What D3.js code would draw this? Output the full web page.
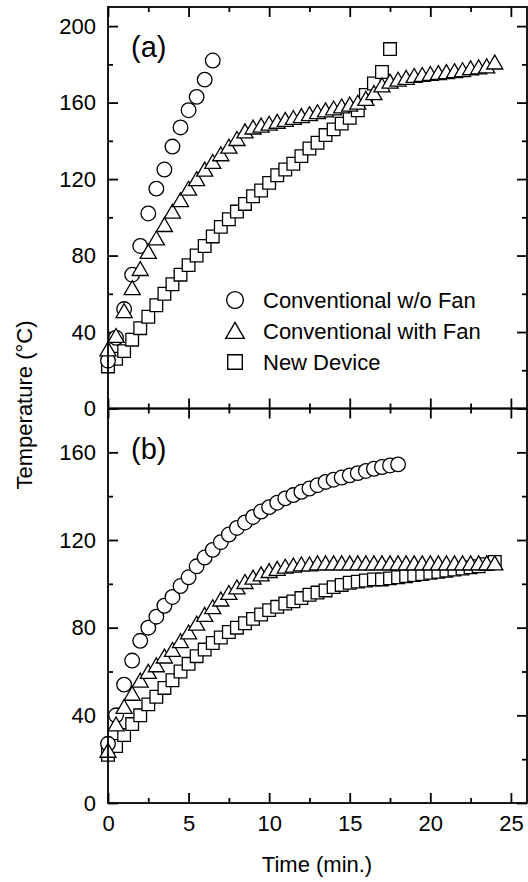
<!DOCTYPE html>
<html>
<head>
<meta charset="utf-8">
<script src="https://cdn.jsdelivr.net/npm/d3@7/dist/d3.min.js"></script>
<style>
  body { margin: 0; background: #fff; }
  svg { display: block; font-family: "Liberation Sans", Arial, sans-serif; }
</style>
</head>
<body>
<svg id="chart" width="528" height="882"></svg>
<script>
// sampling times (min.), every half minute
const timeMin = [0, 0.5, 1, 1.5, 2, 2.5, 3, 3.5, 4, 4.5, 5, 5.5, 6, 6.5, 7, 7.5, 8, 8.5, 9, 9.5,
  10, 10.5, 11, 11.5, 12, 12.5, 13, 13.5, 14, 14.5, 15, 15.5, 16, 16.5, 17, 17.5, 18, 18.5, 19, 19.5,
  20, 20.5, 21, 21.5, 22, 22.5, 23, 23.5, 24];

// (a)
const woFanA = [25, 37, 52, 70, 85, 102, 115, 125, 137, 147, 156, 163, 172, 182];
const withFanA = [30, 37, 50, 62, 72, 81, 88, 95, 102, 108, 114, 119, 124, 128, 132, 136, 140, 144,
  146, 147, 148, 149, 150, 151, 152, 153, 154, 155, 156, 157, 158, 159, 161, 164, 168, 170, 171, 172,
  173, 173.5, 174, 174.5, 175, 175.5, 176, 177, 177.5, 178, 180];
const newDevA = [22, 26, 30, 36, 42, 48, 54, 60, 65, 70, 75, 80, 85, 90, 95, 99, 103, 107, 111, 114,
  118, 122, 125, 128, 132, 136, 139, 143, 146, 149, 152, 156, 164, 170, 176, 188];

// (b)
const woFanB = [27, 40, 54, 65, 74, 80, 85, 90, 94, 99, 103, 108, 112, 115.5, 119, 122.5, 125.5, 128,
  130.5, 133, 135, 137, 139, 140.5, 142, 143.5, 145, 146.5, 147.5, 148.5, 149.5, 150.5, 151.5, 152.5,
  153.3, 154, 154.5];
const withFanB = [23, 35, 43, 49, 55, 59, 62, 66, 69, 73, 77, 81, 85, 88.5, 92, 95, 97.5, 100, 102,
  103.5, 105, 106, 107, 107.5, 108, 108, 108.5, 108.5, 108.5, 108.5, 108.5, 108.5, 108.5, 108.5, 108.5,
  108.5, 108.5, 108.5, 108.5, 108.5, 108.5, 108.5, 108.5, 108.5, 108.5, 108.5, 108.5, 108.5, 108.5];
const newDevB = [22, 26, 31, 36, 40, 45, 48.5, 52.5, 56, 60, 63.5, 67, 70, 73, 75.5, 78, 80, 82, 84,
  86, 88, 89.5, 91, 92, 93.5, 95, 96, 97, 98.5, 99.5, 100.5, 101, 101.5, 102, 102, 102.5, 103, 103.5,
  104, 104.5, 105, 105.5, 106, 106.5, 107, 107.5, 108, 109, 110];

const timeTicks = [0, 5, 10, 15, 20, 25];
const timeMinor = [2.5, 7.5, 12.5, 17.5, 22.5];
const tempTicksA = [0, 40, 80, 120, 160, 200];
const tempMinorA = [20, 60, 100, 140, 180];
const tempTicksB = [0, 40, 80, 120, 160];
const tempMinorB = [20, 60, 100, 140, 180];

const seriesNames = ['Conventional w/o Fan', 'Conventional with Fan', 'New Device'];

const X0 = 108, X1 = 527;
const FONT = '"Liberation Sans", Arial, sans-serif';
const symbols = [
  d3.symbol(d3.symbolCircle, 168)(),
  d3.symbol(d3.symbolTriangle, 112)(),
  d3.symbol(d3.symbolSquare, 160)()
];

const svg = d3.select('#chart');
const x = d3.scaleLinear([0, 26], [X0, X1]);

class TempPanel {
  constructor({ top, bottom, yMax, ticks, minor, label, showX }, root) {
    this._top = top;
    this._bottom = bottom;
    this._ticks = ticks;
    this._minor = minor;
    this._label = label;
    this._showX = showX;
    this._root = root.append('g');
    this._y = d3.scaleLinear([0, yMax], [bottom, top]);
    return this;
  }

  dataInit(series) {
    this._series = series;  // [woFan, withFan, newDev]
    return this;
  }

  render() {
    this.#renderAxes();
    this.#renderPoints();
    this.#renderFrame();
    this._root.append('text')
      .attr('x', 131).attr('y', this._top + 50)
      .attr('font-size', 29)
      .text(this._label);
    return this;
  }

  #styleAxis(g) {
    g.select('.domain').remove();
    g.selectAll('.tick line').attr('stroke', '#000').attr('stroke-width', 1.8);
    g.attr('font-family', FONT).attr('font-size', 22)
      .selectAll('.tick text').attr('fill', '#000');
  }

  #renderAxes() {
    const { _root, _y, _top, _bottom } = this;
    const sides = [
      [d3.axisLeft, _y, `translate(${X0},0)`, true],
      [d3.axisRight, _y, `translate(${X1},0)`, false],
      [d3.axisTop, x, `translate(0,${_top})`, false],
      [d3.axisBottom, x, `translate(0,${_bottom})`, this._showX]
    ];
    sides.forEach(([axis, scale, tr, labelled]) => {
      const isY = scale === _y;
      const major = isY ? this._ticks : timeTicks;
      const minor = isY ? this._minor.filter(v => v < scale.domain()[1]) : timeMinor;
      _root.append('g').attr('transform', tr)
        .call(axis(scale).tickValues(major).tickSize(-10).tickPadding(12)
          .tickFormat(labelled ? d3.format('d') : ''))
        .call(g => this.#styleAxis(g));
      _root.append('g').attr('transform', tr)
        .call(axis(scale).tickValues(minor).tickSize(-5).tickFormat(''))
        .call(g => this.#styleAxis(g));
    });
  }

  #renderPoints() {
    const { _root, _y, _series } = this;
    // draw order: squares, circles, triangles
    [2, 0, 1].forEach(k => {
      const pts = _series[k].map((v, i) => ({ t: timeMin[i], v }));
      _root.append('g')
        .selectAll('path')
        .data(pts)
        .join('path')
          .attr('d', symbols[k])
          .attr('transform', d => `translate(${x(d.t)},${_y(d.v)})`)
          .attr('fill', '#fff')
          .attr('stroke', '#000')
          .attr('stroke-width', 1.3);
    });
  }

  #renderFrame() {
    this._root.append('rect')
      .attr('x', X0).attr('y', this._top)
      .attr('width', X1 - X0).attr('height', this._bottom - this._top)
      .attr('fill', 'none').attr('stroke', '#000').attr('stroke-width', 1.8);
  }
}

new TempPanel({ top: 7, bottom: 408.5, yMax: 210, ticks: tempTicksA, minor: tempMinorA,
  label: '(a)', showX: false }, svg)
  .dataInit([woFanA, withFanA, newDevA]).render();

new TempPanel({ top: 408.5, bottom: 803, yMax: 180, ticks: tempTicksB, minor: tempMinorB,
  label: '(b)', showX: true }, svg)
  .dataInit([woFanB, withFanB, newDevB]).render();

// legend in panel (a)
const legend = svg.append('g').attr('font-family', FONT).attr('font-size', 22);
seriesNames.forEach((name, k) => {
  const cy = 300 + k * 31;
  legend.append('path')
    .attr('d', symbols[k])
    .attr('transform', `translate(235,${cy + (k === 1 ? 2 : 0)}) scale(1.15)`)
    .attr('fill', '#fff').attr('stroke', '#000').attr('stroke-width', 1.2);
  legend.append('text')
    .attr('x', 263).attr('y', cy).attr('dy', '0.36em')
    .text(name);
});

// axis titles
svg.append('text')
  .attr('x', 317).attr('y', 872)
  .attr('text-anchor', 'middle')
  .attr('font-family', FONT).attr('font-size', 22)
  .text('Time (min.)');

svg.append('text')
  .attr('transform', 'translate(32,405) rotate(-90)')
  .attr('text-anchor', 'middle')
  .attr('font-family', FONT).attr('font-size', 22)
  .text('Temperature (°C)');
</script>
</body>
</html>
